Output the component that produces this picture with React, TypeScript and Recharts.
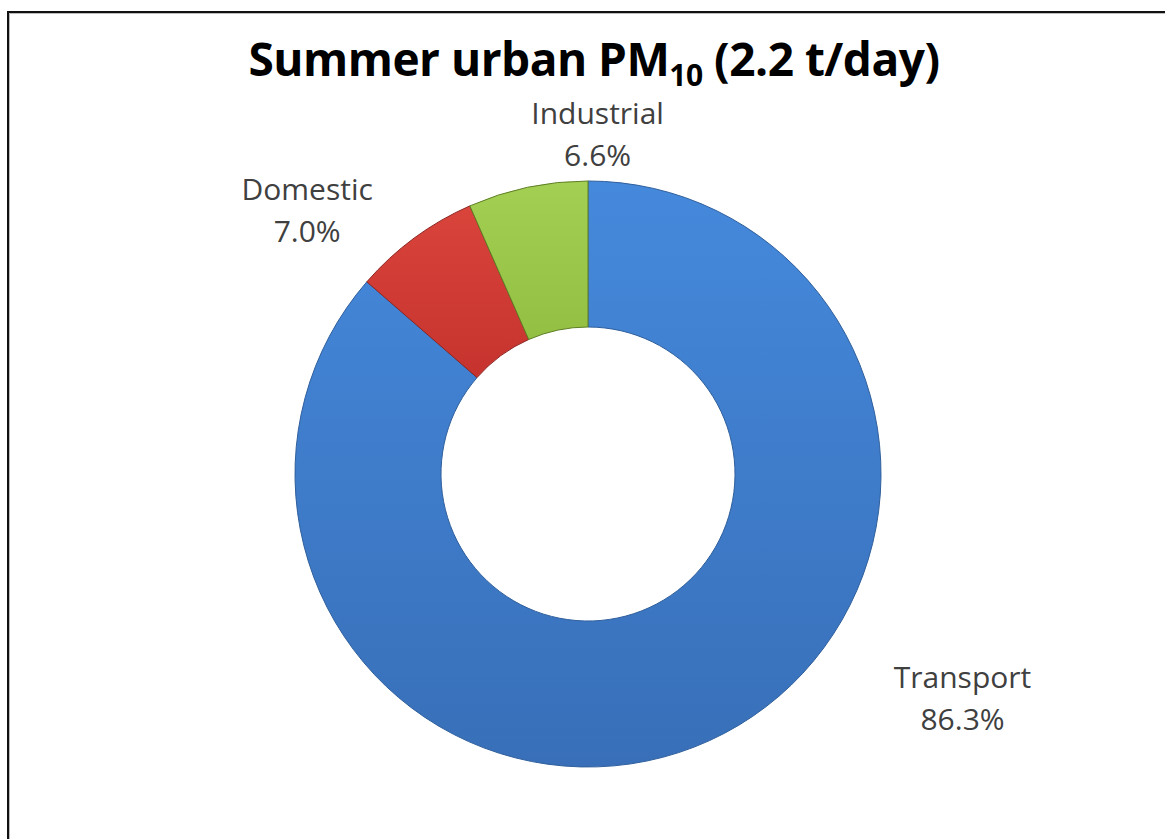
import React from "react"
import { PieChart, Pie, Cell } from "recharts"

const sources = ["Transport", "Domestic", "Industrial"]
const shares = [86.3, 7.0, 6.6]
const sliceEdges = ["#2f5f9c", "#8e2420", "#5e7f25"]

// label box centre relative to the outer point of each slice's mid angle
const labelNudge = [
  { dx: 253, dy: -45 },
  { dx: -107, dy: -30 },
  { dx: 70, dy: -55 },
]

const pieData = sources.map((name, i) => ({ name, value: shares[i] }))

const labelFont = "'Open Sans', 'DejaVu Sans', sans-serif"

const renderLabel = (props: any) => {
  const { cx, cy, midAngle, outerRadius, index, payload } = props
  const rad = (Math.PI / 180) * midAngle
  const x = cx + outerRadius * Math.cos(rad) + labelNudge[index].dx
  const y = cy - outerRadius * Math.sin(rad) + labelNudge[index].dy
  return (
    <text
      x={x}
      y={y}
      textAnchor="middle"
      fill="#404040"
      fontFamily={labelFont}
      fontSize={30}
    >
      <tspan x={x} dy={-8}>
        {payload.name}
      </tspan>
      <tspan x={x} dy={42}>
        {payload.value.toFixed(1)}%
      </tspan>
    </text>
  )
}

export default function App() {
  return (
    <div
      style={{
        position: "fixed",
        left: 0,
        top: 0,
        width: 1165,
        height: 839,
        overflow: "hidden",
        background: "#fff",
      }}
    >
      <div
        style={{
          position: "absolute",
          left: 7,
          top: 11,
          width: 1200,
          height: 900,
          borderTop: "2px solid #111",
          borderLeft: "2px solid #111",
          boxShadow: "inset 1px 1px 0 #bbb",
        }}
      />
      <div
        style={{
          position: "absolute",
          left: 0,
          top: 31,
          width: 1188,
          textAlign: "center",
          fontFamily: "'Open Sans', sans-serif",
          fontWeight: 700,
          fontSize: 46,
          lineHeight: "54px",
          letterSpacing: -0.5,
          color: "#000",
        }}
      >
        Summer urban PM
        <sub style={{ fontSize: 30, verticalAlign: -10 }}>10</sub> (2.2 t/day)
      </div>
      <div style={{ position: "absolute", left: 0, top: 0 }}>
        <PieChart width={1165} height={839}>
          <defs>
            <linearGradient id="g0" x1="0" y1="0" x2="0" y2="1">
              <stop offset="0%" stopColor="#4589dc" />
              <stop offset="100%" stopColor="#386fb8" />
            </linearGradient>
            <linearGradient id="g1" x1="0" y1="0" x2="0" y2="1">
              <stop offset="0%" stopColor="#d9443b" />
              <stop offset="100%" stopColor="#c6332e" />
            </linearGradient>
            <linearGradient id="g2" x1="0" y1="0" x2="0" y2="1">
              <stop offset="0%" stopColor="#a3cf52" />
              <stop offset="100%" stopColor="#93bf43" />
            </linearGradient>
          </defs>
          <Pie
            data={pieData}
            dataKey="value"
            nameKey="name"
            cx={583}
            cy={469}
            innerRadius={147}
            outerRadius={293}
            startAngle={90}
            endAngle={-270}
            label={renderLabel}
            labelLine={false}
            isAnimationActive={false}
          >
            {pieData.map((d, i) => (
              <Cell
                key={d.name}
                fill={`url(#g${i})`}
                stroke={sliceEdges[i]}
                strokeWidth={1}
              />
            ))}
          </Pie>
        </PieChart>
      </div>
    </div>
  )
}
